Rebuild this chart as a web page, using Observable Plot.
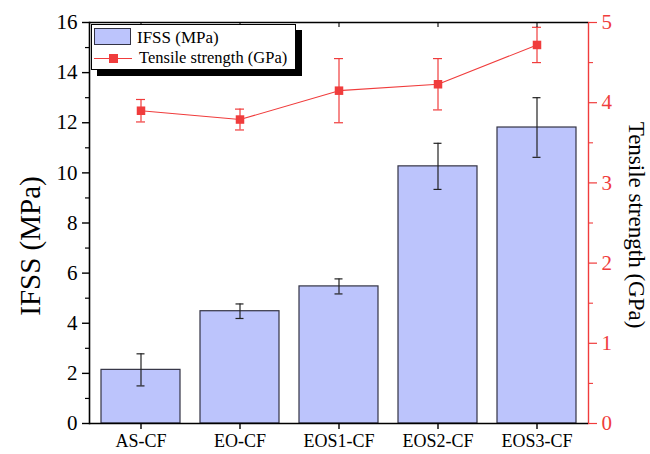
<!DOCTYPE html>
<html><head><meta charset="utf-8">
<script src="https://cdn.jsdelivr.net/npm/d3@7"></script>
<script src="https://cdn.jsdelivr.net/npm/@observablehq/plot@0.6"></script>
<style>
body{margin:0;background:#fff;}
#wrap{position:relative;width:650px;height:454px;font-family:"Liberation Serif","Times New Roman",serif;color:#000;}
#wrap svg, #wrap svg text{font-family:"Liberation Serif","Times New Roman",serif !important;}
.title{position:absolute;white-space:nowrap;line-height:1;}
#legend{position:absolute;left:91px;top:24px;width:205px;height:46px;box-sizing:border-box;border:1px solid #000;background:#fff;box-shadow:6px 6px 0 #000;}
#legend .sw{position:absolute;left:2px;top:3px;width:37px;height:17px;box-sizing:border-box;background:#bcc4fc;border:1px solid #333344;}
#legend .ln{position:absolute;left:2px;top:33px;width:38px;height:0;border-top:1.2px solid #f03c3c;}
#legend .sq{position:absolute;left:17px;top:29px;width:9px;height:9px;background:#f03c3c;}
#legend .tx{position:absolute;white-space:nowrap;line-height:1;}
</style></head><body>
<div id="wrap"></div>
<script>
const categories = ["AS-CF", "EO-CF", "EOS1-CF", "EOS2-CF", "EOS3-CF"];
const ifss = [2.14, 4.48, 5.47, 10.26, 11.81];
const ifssErr = [0.64, 0.29, 0.30, 0.92, 1.19];
const tensile = [3.90, 3.79, 4.15, 4.23, 4.72];
const tensileErr = [0.14, 0.13, 0.40, 0.32, 0.22];
const leftTicks = [0, 2, 4, 6, 8, 10, 12, 14, 16];
const leftMinor = [1, 3, 5, 7, 9, 11, 13, 15];
const rightTicks = [0, 1, 2, 3, 4, 5];
const rightMinor = [0.5, 1.5, 2.5, 3.5, 4.5];
const leftTitle = "IFSS (MPa)";
const rightTitle = "Tensile strength (GPa)";
const legendBar = "IFSS (MPa)";
const legendLine = "Tensile strength (GPa)";

const red = "#f03c3c";
const serif = "Liberation Serif";
const k = 16 / 5; // right-axis GPa -> left-axis units
const data = categories.map((c, i) => ({
  cat: c, ifss: ifss[i], ie: ifssErr[i], t: tensile[i] * k, te: tensileErr[i] * k
}));

const plot = Plot.plot({
  width: 650, height: 454,
  marginLeft: 89, marginRight: 62, marginTop: 22, marginBottom: 31,
  style: {fontFamily: serif, background: "white", overflow: "visible"},
  x: {type: "band", domain: categories, paddingInner: 0.2, paddingOuter: 0.1, align: 0.5, label: null, axis: null},
  y: {domain: [0, 16], label: null, axis: null},
  marks: [
    Plot.barY(data, {x: "cat", y: "ifss", fill: "#bcc4fc", stroke: "#333344", strokeWidth: 1.2}),
    Plot.ruleX(data, {x: "cat", y1: d => d.ifss - d.ie, y2: d => d.ifss + d.ie, stroke: "#222", strokeWidth: 1.2}),
    Plot.tickY(data, {x: "cat", y: d => d.ifss - d.ie, stroke: "#222", strokeWidth: 1.2, insetLeft: 35.5, insetRight: 35.5}),
    Plot.tickY(data, {x: "cat", y: d => d.ifss + d.ie, stroke: "#222", strokeWidth: 1.2, insetLeft: 35.5, insetRight: 35.5}),
    Plot.line(data, {x: "cat", y: "t", stroke: red, strokeWidth: 1.1}),
    Plot.ruleX(data, {x: "cat", y1: d => d.t - d.te, y2: d => d.t + d.te, stroke: red, strokeWidth: 1.2}),
    Plot.tickY(data, {x: "cat", y: d => d.t - d.te, stroke: red, strokeWidth: 1.2, insetLeft: 35, insetRight: 35}),
    Plot.tickY(data, {x: "cat", y: d => d.t + d.te, stroke: red, strokeWidth: 1.2, insetLeft: 35, insetRight: 35}),
    Plot.dot(data, {x: "cat", y: "t", symbol: "square", r: 4.8, fill: red, stroke: "none"}),
    // frame lines
    Plot.frame({anchor: "right", stroke: red, strokeWidth: 1.4}),
    Plot.ruleY([16], {stroke: "#000", strokeWidth: 1.5}),
    Plot.ruleY([0], {stroke: "#000", strokeWidth: 1.5}),
    Plot.frame({anchor: "left", stroke: "#000", strokeWidth: 1.6}),
    // left axis
    Plot.axisY(leftTicks, {anchor: "left", tickSize: 7, tickPadding: 5, fontSize: 21, fontFamily: serif, strokeWidth: 1.4, color: "#000", label: null}),
    Plot.axisY(leftMinor, {anchor: "left", tickSize: 4, tickFormat: () => "", strokeWidth: 1.2, color: "#000", label: null}),
    // right axis
    Plot.axisY(rightTicks.map(v => v * k), {anchor: "right", tickSize: 8, tickPadding: 5, fontSize: 21, fontFamily: serif, strokeWidth: 1.2, color: red, tickFormat: d => String(Math.round(d / k * 100) / 100), label: null}),
    Plot.axisY(rightMinor.map(v => v * k), {anchor: "right", tickSize: 4, tickFormat: () => "", strokeWidth: 1.1, color: red, label: null}),
    // x axes
    Plot.axisX({anchor: "bottom", tickSize: 6, tickPadding: 5, fontSize: 18, fontFamily: serif, strokeWidth: 1.4, color: "#000", label: null}),
    Plot.axisX({anchor: "top", tickSize: -4, tickFormat: () => "", strokeWidth: 1.1, color: "#000", label: null})
  ]
});

const wrap = document.getElementById("wrap");
wrap.appendChild(plot);

function addTitle(text, x, y, rot, size) {
  const d = document.createElement("div");
  d.className = "title";
  d.textContent = text;
  d.style.left = x + "px";
  d.style.top = y + "px";
  d.style.fontSize = size + "px";
  d.style.transform = `translate(-50%,-50%) rotate(${rot}deg)`;
  wrap.appendChild(d);
}
addTitle(leftTitle, 30, 246, -90, 29);
addTitle(rightTitle, 636, 225, 90, 23);

const lg = document.createElement("div");
lg.id = "legend";
lg.innerHTML = `<div class="sw"></div><div class="tx" style="left:45px;top:4px;font-size:17px"></div>
<div class="ln"></div><div class="sq"></div><div class="tx" style="left:47px;top:25px;font-size:16.5px"></div>`;
const txs = lg.querySelectorAll(".tx");
txs[0].textContent = legendBar;
txs[1].textContent = legendLine;
wrap.appendChild(lg);
</script>
</body></html>
